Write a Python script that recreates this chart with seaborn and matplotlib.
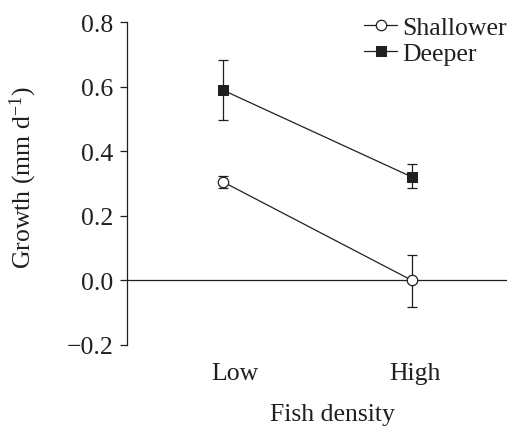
import numpy as np
import pandas as pd
import matplotlib
matplotlib.use("Agg")
import matplotlib.pyplot as plt
import matplotlib.transforms as mtrans
import seaborn as sns

# Data
densities = ["Low", "High"]
shallower = [0.305, 0.0]
shallower_err_lo = [0.018, 0.082]
shallower_err_hi = [0.018, 0.078]
deeper = [0.589, 0.32]
deeper_err_lo = [0.093, 0.035]
deeper_err_hi = [0.093, 0.039]
groups = ["Shallower", "Deeper"]
yticks = [-0.2, 0.0, 0.2, 0.4, 0.6, 0.8]

sns.set_theme(style="ticks")
plt.rcParams["font.family"] = ["Liberation Serif", "DejaVu Serif"]
plt.rcParams["mathtext.fontset"] = "custom"
plt.rcParams["mathtext.rm"] = "Liberation Serif"
plt.rcParams["mathtext.it"] = "Liberation Serif:italic"
FS = 18.5
ink = "#231f20"

df = pd.DataFrame({
    "density": densities * 2,
    "growth": shallower + deeper,
    "group": [groups[0]] * 2 + [groups[1]] * 2,
})

fig = plt.figure(figsize=(5.09, 4.27), dpi=100)
ax = fig.add_axes([127 / 509, 1 - 346 / 427, 380 / 509, 323 / 427])

# error bars
ax.errorbar(densities, shallower, yerr=[shallower_err_lo, shallower_err_hi],
            fmt="none", ecolor=ink, elinewidth=0.9, capsize=3.5, capthick=0.9, zorder=2)
ax.errorbar(densities, deeper, yerr=[deeper_err_lo, deeper_err_hi],
            fmt="none", ecolor=ink, elinewidth=0.9, capsize=3.5, capthick=0.9, zorder=2)

sns.lineplot(data=df, x="density", y="growth", hue="group", style="group",
             palette={"Shallower": ink, "Deeper": ink},
             markers={"Shallower": "o", "Deeper": "s"},
             dashes={"Shallower": "", "Deeper": ""},
             markersize=7.5, linewidth=0.9, ax=ax, zorder=3)

for line in ax.lines:
    if line.get_marker() == "o":
        line.set_markerfacecolor("white")
        line.set_markeredgecolor(ink)
        line.set_markeredgewidth(0.9)
    elif line.get_marker() == "s":
        line.set_markerfacecolor(ink)
        line.set_markeredgecolor(ink)

ax.axhline(0, color=ink, lw=0.9, zorder=1)

ax.set_xlim(-0.508, 1.503)
ax.set_ylim(-0.2, 0.8)
ax.set_yticks(yticks)
ax.set_yticklabels([f"{t:.1f}".replace("-", "\u2212") for t in yticks], fontsize=FS, color=ink)
ax.tick_params(axis="y", length=5, width=0.9, color=ink, pad=5, direction="out")
ax.tick_params(axis="x", length=0, pad=12, labelsize=FS, labelcolor=ink)

# small horizontal nudges of the category labels, as in the original
for lab, dx in zip(ax.get_xticklabels(), [12, 3]):
    lab.set_transform(lab.get_transform() + mtrans.ScaledTranslation(dx / 100, 0, fig.dpi_scale_trans))

for s in ["top", "right", "bottom"]:
    ax.spines[s].set_visible(False)
ax.spines["left"].set_color(ink)
ax.spines["left"].set_linewidth(0.9)

ax.set_xlabel("Fish density", fontsize=FS, color=ink)
ax.xaxis.set_label_coords(0.54, -0.18)
ax.set_ylabel(r"Growth (mm d$^{\mathregular{-1}}$)", fontsize=FS, color=ink)
ax.yaxis.set_label_coords(-0.232, 0.52)

ax.get_legend().remove()
handles, labels = ax.get_legend_handles_labels()
leg = fig.legend(handles, labels, loc="upper left", bbox_to_anchor=(364 / 509, 1 - 17 / 427),
                 frameon=False, fontsize=FS, handlelength=1.3, handletextpad=0.2,
                 labelspacing=0.12, borderpad=0, borderaxespad=0)
for t in leg.get_texts():
    t.set_color(ink)

fig.savefig("out.png", dpi=100)
